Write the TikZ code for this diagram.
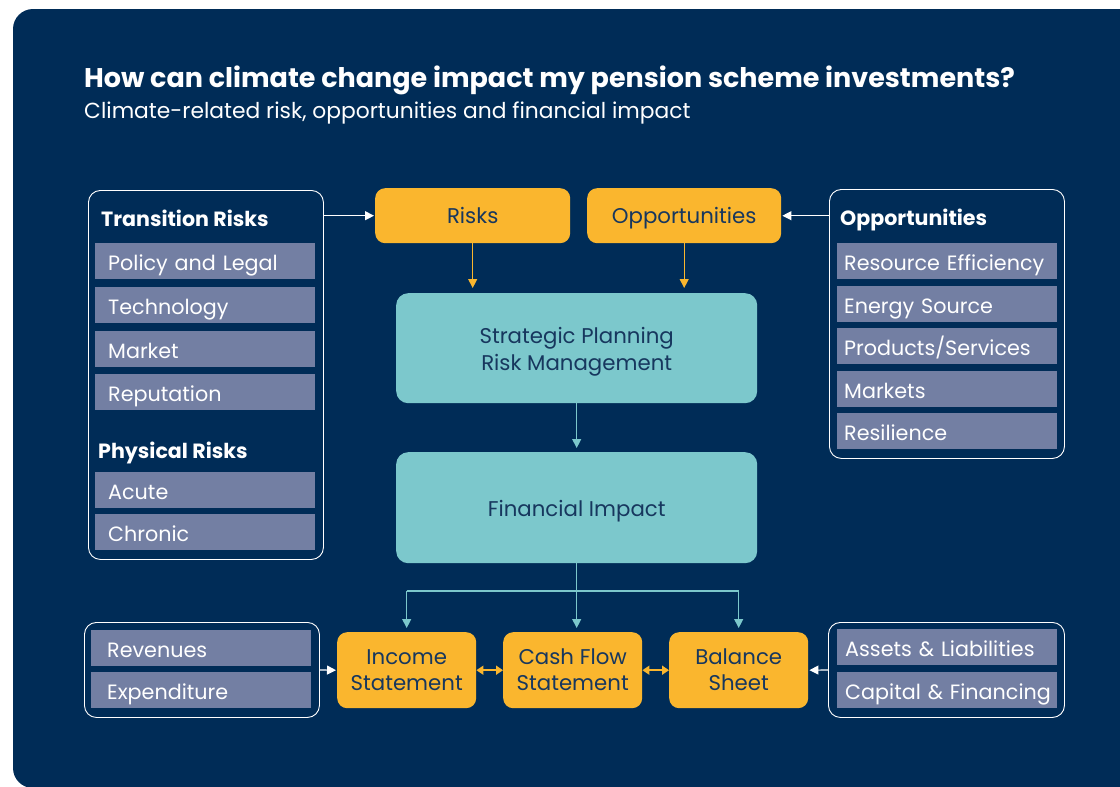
\documentclass[tikz,border=0pt]{standalone}
\usepackage{fontspec}
\setmainfont{Poppins}
\usetikzlibrary{arrows.meta,calc}
\definecolor{navy}{HTML}{002C57}
\definecolor{yel}{HTML}{FAB62E}
\definecolor{tealc}{HTML}{7CC8CC}
\definecolor{itemc}{HTML}{737FA3}
\definecolor{dtext}{HTML}{17375E}
\newcommand\myitemfont{\fontsize{20.7}{24}\selectfont}
\newcommand\myheadfont{\fontsize{20.6}{24}\selectfont\bfseries}
\newcommand\myboxfont{\fontsize{21.3}{26}\selectfont}
\newcommand\mytealfont{\fontsize{21.3}{27}\selectfont}
\begin{document}
\begin{tikzpicture}[x=1pt,y=-1pt,
  grp/.style={draw=white, line width=0.9pt, rounded corners=12pt, anchor=north west, inner sep=0pt},
  item/.style={fill=itemc, text=white, font=\myitemfont, minimum height=36pt, inner ysep=0pt, text height=20pt, text depth=2pt, align=left, anchor=north west},
  head/.style={text=white, font=\myheadfont, anchor=base west, inner sep=0pt},
  ybox/.style={fill=yel, rounded corners=10pt, text=dtext, font=\myboxfont, anchor=north west, align=center, inner sep=0pt},
  tbox/.style={fill=tealc, rounded corners=12pt, text=dtext, font=\mytealfont, anchor=north west, align=center, inner sep=0pt},
  wconn/.style={draw=white, line width=1.1pt, -{Triangle[length=9pt,width=9pt]}, shorten >=1pt},
  yconn/.style={draw=yel, line width=1.1pt, -{Triangle[length=9pt,width=9pt]}, shorten >=5pt},
  tconn/.style={draw=tealc, line width=1.1pt, -{Triangle[length=9pt,width=9pt]}, shorten >=4pt},
  tline/.style={draw=tealc, line width=1.1pt},
  dconn/.style={draw=yel, line width=1.6pt, {Triangle[length=7pt,width=9pt]}-{Triangle[length=7pt,width=9pt]}}
]
\useasboundingbox (0,0) rectangle (1120,787);
\fill[white] (0,0) rectangle (1120,787);
\begin{scope}
\clip (0,0) rectangle (1120,787);
\fill[navy, rounded corners=20pt] (13,9) rectangle (1160,788);
\end{scope}

% title
\node[text=white, font=\fontsize{27}{32}\selectfont\bfseries, anchor=base west, inner sep=0pt] (title) at (84,87) {How can climate change impact my pension scheme investments?};
\node[text=white, font=\fontsize{21.8}{26}\selectfont, anchor=base west, inner sep=0pt] (subtitle) at (84,118) {Climate-related risk, opportunities and financial impact};

% left group
\node[grp, minimum width=235pt, minimum height=369pt] (lgrp) at (88,190) {};
\node[head] (trh) at (101,226) {Transition Risks};
\node[item, text width=194pt, inner xsep=13pt] (pl) at (95,243) {Policy and Legal};
\node[item, text width=194pt, inner xsep=13pt] (tech) at (95,287) {Technology};
\node[item, text width=194pt, inner xsep=13pt] (mkt) at (95,331) {Market};
\node[item, text width=194pt, inner xsep=13pt] (rep) at (95,374) {Reputation};
\node[head] (phh) at (98,458) {Physical Risks};
\node[item, text width=194pt, inner xsep=13pt] (acu) at (95,472) {Acute};
\node[item, text width=194pt, inner xsep=13pt] (chr) at (95,514) {Chronic};

% right group
\node[grp, minimum width=235pt, minimum height=269pt] (rgrp) at (829,189) {};
\node[head] (oph) at (840,225) {Opportunities};
\node[item, text width=206pt, inner xsep=7pt] (re) at (837,243) {\mbox{Resource Efficiency}};
\node[item, text width=206pt, inner xsep=7pt] (es) at (837,286) {Energy Source};
\node[item, text width=206pt, inner xsep=7pt] (ps) at (837,328) {Products/Services};
\node[item, text width=206pt, inner xsep=7pt] (mks) at (837,371) {Markets};
\node[item, text width=206pt, inner xsep=7pt] (res) at (837,413) {Resilience};

% top yellow boxes
\node[ybox, text height=17pt, text depth=2pt, minimum width=195pt, minimum height=55pt] (risks) at (375,188) {Risks};
\node[ybox, text height=17pt, text depth=2pt, minimum width=194pt, minimum height=55pt] (opps) at (587,188) {Opportunities};

% teal boxes
\node[tbox, text height=46pt, text depth=2pt, minimum width=361pt, minimum height=110pt] (strat) at (396,293) {Strategic Planning\\Risk Management};
\node[tbox, text height=19pt, text depth=2pt, minimum width=361pt, minimum height=111pt] (fin) at (396,452) {Financial Impact};

% bottom yellow boxes
\node[ybox, text height=42pt, text depth=2pt, minimum width=139pt, minimum height=76pt] (inc) at (337,632) {Income\\Statement};
\node[ybox, text height=42pt, text depth=2pt, minimum width=139pt, minimum height=76pt] (cash) at (503,632) {Cash Flow\\Statement};
\node[ybox, text height=42pt, text depth=2pt, minimum width=139pt, minimum height=76pt] (bal) at (669,632) {Balance\\Sheet};

% bottom groups
\node[grp, minimum width=235pt, minimum height=95pt] (bl) at (84,622) {};
\node[item, text width=188pt, inner xsep=16pt] (rev) at (91,630) {Revenues};
\node[item, text width=188pt, inner xsep=16pt] (exp) at (91,672) {Expenditure};
\node[grp, minimum width=236pt, minimum height=95pt] (br) at (828,622) {};
\node[item, text width=204pt, inner xsep=8pt] (al) at (837,629) {\mbox{Assets \& Liabilities}};
\node[item, text width=204pt, inner xsep=8pt] (cf) at (837,672) {\mbox{Capital \& Financing}};

% connectors
\draw[wconn] (risks.west -| lgrp.east) -- (risks.west);
\draw[wconn] (opps.east -| rgrp.west) -- (opps.east);
\draw[yconn] (risks.south) -- (risks.south |- strat.north);
\draw[yconn] (opps.south) -- (opps.south |- strat.north);
\draw[tconn] (strat.south) -- (fin.north);
\coordinate (split) at (577,591);
\draw[tline] (split -| inc.north) -- (split -| bal.north);
\draw[tconn] (fin.south) -- (fin.south |- cash.north);
\draw[tconn] (split -| inc.north) -- (inc.north);
\draw[tconn] (split -| bal.north) -- (bal.north);
\draw[dconn] (inc.east) -- (cash.west);
\draw[dconn] (cash.east) -- (bal.west);
\draw[wconn] (bl.east) -- (inc.west);
\draw[wconn] (br.west) -- (bal.east);
\end{tikzpicture}
\end{document}
